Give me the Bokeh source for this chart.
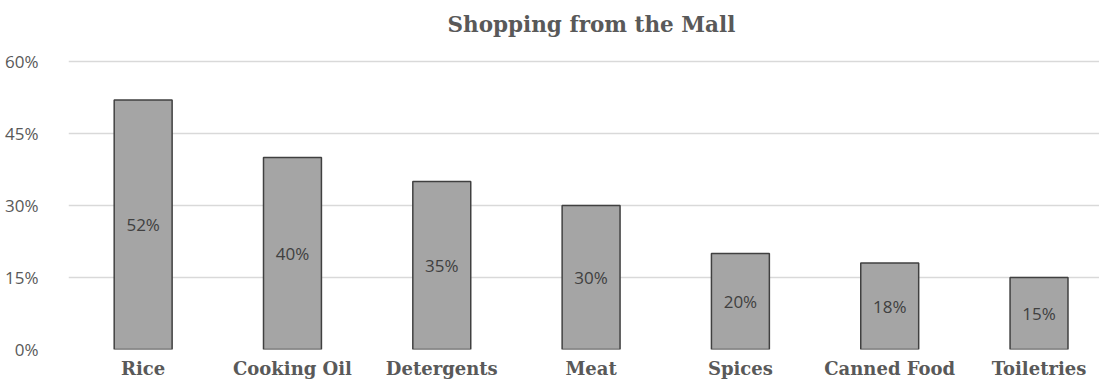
from bokeh.plotting import figure
from bokeh.models import Range1d, FixedTicker, ColumnDataSource, Title
from bokeh.core.properties import value
from bokeh.embed import file_html
from bokeh.resources import INLINE

categories = ["Rice", "Cooking Oil", "Detergents", "Meat", "Spices", "Canned Food", "Toiletries"]
values = [52, 40, 35, 30, 20, 18, 15]
y_ticks = [0, 15, 30, 45, 60]
y_tick_labels = ["0%", "15%", "30%", "45%", "60%"]
title_text = "Shopping from the Mall"

xs = [i + 0.5 for i in range(len(categories))]
src = ColumnDataSource(dict(
    x=xs, top=values, mid=[v / 2 for v in values],
    lab=[f"{v}%" for v in values],
))

p = figure(width=1099, height=381, output_backend="svg", toolbar_location=None,
           x_range=Range1d(0, 6.905), y_range=Range1d(0, 64.79),
           min_border_left=68, min_border_right=0, min_border_top=38, min_border_bottom=30)
p.outline_line_color = None
p.background_fill_color = "white"
p.border_fill_color = "white"

p.vbar(x="x", top="top", width=0.388, source=src,
       fill_color="#a5a5a5", line_color="#404040", line_width=1.5)
p.text(x="x", y="mid", text="lab", source=src, text_align="center", text_baseline="middle",
       text_font=value("Open Sans"), text_font_size="17px", text_color="#404040")

p.xgrid.grid_line_color = None
p.ygrid.grid_line_color = "#d9d9d9"
p.ygrid.grid_line_width = 1.5
p.ygrid.ticker = FixedTicker(ticks=y_ticks)

ya = p.yaxis[0]
ya.ticker = FixedTicker(ticks=y_ticks)
ya.major_label_overrides = {t: l for t, l in zip(y_ticks, y_tick_labels)}
ya.axis_line_color = None
ya.major_tick_line_color = None
ya.minor_tick_line_color = None
ya.major_label_standoff = 24
ya.major_label_text_font = "Open Sans"
ya.major_label_text_font_size = "17px"
ya.major_label_text_color = "#595959"

xa = p.xaxis[0]
xa.ticker = FixedTicker(ticks=xs)
xa.major_label_overrides = {x: c for x, c in zip(xs, categories)}
xa.axis_line_color = None
xa.major_tick_line_color = None
xa.minor_tick_line_color = None
xa.major_label_standoff = 2
xa.major_label_text_font = "DejaVu Serif"
xa.major_label_text_font_style = "bold"
xa.major_label_text_font_size = "18px"
xa.major_label_text_color = "#595959"

p.title = Title(text=title_text, align="left", text_font="DejaVu Serif",
                text_font_style="bold", text_font_size="21.5px", text_color="#595959",
                offset=379, standoff=4)

open("out.html", "w").write(file_html(p, INLINE))
